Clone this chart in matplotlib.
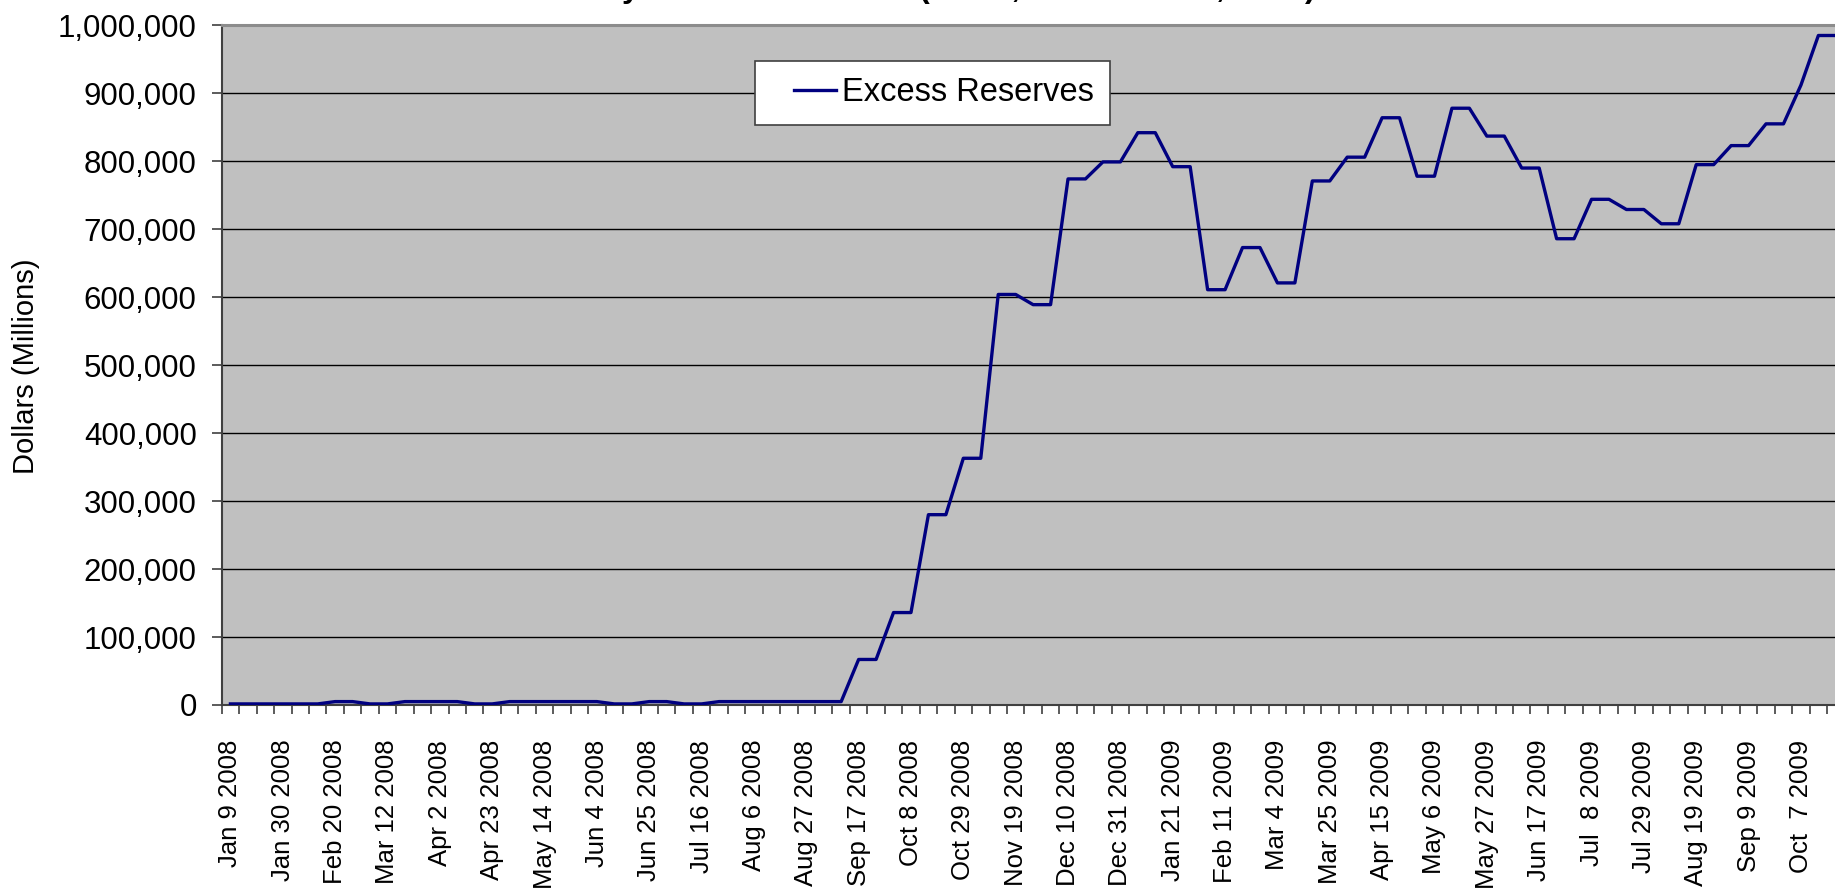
import numpy as np
import matplotlib
matplotlib.use('Agg')
from matplotlib import pyplot as plt
from matplotlib.ticker import FuncFormatter
from matplotlib.legend_handler import HandlerLine2D

plt.rcParams['font.family'] = ['Liberation Sans', 'DejaVu Sans']

# weekly excess reserves, millions of dollars
excess = [1600, 1600, 1600, 1600, 1600, 1600, 5000, 5000, 1600, 1600,
          5000, 5000, 5000, 5000, 1600, 1600, 5000, 5000, 5000, 5000,
          5000, 5000, 1600, 1600, 5000, 5000, 1600, 1600, 5000, 5000,
          5000, 5000, 5000, 5000, 5000, 5000,
          67000, 67000, 136000, 136000, 280000, 280000, 363000, 363000,
          604000, 604000, 589000, 589000, 774000, 774000, 799000, 799000,
          842000, 842000, 792000, 792000, 611000, 611000, 673000, 673000,
          621000, 621000, 771000, 771000, 806000, 806000, 864000, 864000,
          778000, 778000, 878000, 878000, 837000, 837000, 790000, 790000,
          686000, 686000, 744000, 744000, 729000, 729000, 708000, 708000,
          795000, 795000, 823000, 823000, 855000, 855000, 912000,
          985000, 985000]

date_labels = ['Jan 9 2008', 'Jan 30 2008', 'Feb 20 2008', 'Mar 12 2008',
               'Apr 2 2008', 'Apr 23 2008', 'May 14 2008', 'Jun 4 2008',
               'Jun 25 2008', 'Jul 16 2008', 'Aug 6 2008', 'Aug 27 2008',
               'Sep 17 2008', 'Oct 8 2008', 'Oct 29 2008', 'Nov 19 2008',
               'Dec 10 2008', 'Dec 31 2008', 'Jan 21 2009', 'Feb 11 2009',
               'Mar 4 2009', 'Mar 25 2009', 'Apr 15 2009', 'May 6 2009',
               'May 27 2009', 'Jun 17 2009', 'Jul  8 2009', 'Jul 29 2009',
               'Aug 19 2009', 'Sep 9 2009', 'Oct  7 2009']
label_every = 3

title = 'Weekly Excess Reserves (Jan 9, 2008 \u2013 Oct 7, 2009)'
series_name = 'Excess Reserves'
y_title = 'Dollars (Millions)'


class ShortLine(HandlerLine2D):
    # excel leaves a wide gap before the legend line
    def create_artists(self, legend, orig_handle, xdescent, ydescent,
                       width, height, fontsize, trans):
        arts = super().create_artists(legend, orig_handle, xdescent, ydescent,
                                      width, height, fontsize, trans)
        line = arts[0]
        xd = np.asarray(line.get_xdata(), dtype=float)
        x0, x1 = xd.min(), xd.max()
        line.set_xdata(np.linspace(x0 + 0.35 * (x1 - x0), x1, len(xd)))
        return arts


def draw(out_file):
    W, H = 1835, 893
    fig = plt.figure(figsize=(W / 100, H / 100), dpi=100)
    # the original is cropped: right edge of the plot runs off the picture
    x_right = 95.5
    px_per_cat = 17.45
    left, bottom, top = 221.7, 705.0, 25.3
    ax = fig.add_axes([left / W, (H - bottom) / H,
                       px_per_cat * (x_right + 0.5) / W, (bottom - top) / H])
    ax.set_facecolor('#C0C0C0')

    x = np.arange(len(excess))
    line, = ax.plot(x, excess, color='#000080', lw=2.4, label=series_name,
                    zorder=3)

    ax.set_xlim(-0.5, x_right)
    ax.set_ylim(0, 1000000)

    ax.set_yticks(np.arange(0, 1000001, 100000))
    ax.yaxis.set_major_formatter(FuncFormatter(lambda v, p: f'{int(v):,}'))
    ax.grid(axis='y', color='black', lw=1.0, zorder=1)
    ax.set_axisbelow(True)

    ax.set_xticks(np.arange(0, len(date_labels) * label_every, label_every))
    ax.set_xticklabels(date_labels, rotation=90, ha='center', va='top')
    ax.set_xticks(np.arange(-0.5, x_right, 1), minor=True)
    ax.tick_params(axis='x', which='major', length=0, pad=25, labelsize=18.5)
    ax.tick_params(axis='x', which='minor', length=6.5, width=1.2,
                   color='#404040')
    ax.tick_params(axis='y', length=7, width=1.2, color='#404040',
                   pad=11, labelsize=22.5)

    ax.spines['top'].set_color('#8c8c8c')
    ax.spines['top'].set_linewidth(2.2)
    for s in ['left', 'bottom']:
        ax.spines[s].set_color('#404040')
        ax.spines[s].set_linewidth(1.5)
    ax.spines['right'].set_visible(False)

    fig.text(26 / W, 1 - 366 / H, y_title, rotation=90, ha='center',
             va='center', fontsize=21)
    # only the descenders of the title make it into the cropped picture
    fig.text(923 / W, 1.003, title, ha='center', va='baseline',
             fontsize=23, fontweight='bold')

    leg = ax.legend(handler_map={line: ShortLine()},
                    loc='upper left', bbox_to_anchor=(755 / W, 1 - 61 / H),
                    bbox_transform=fig.transFigure, fontsize=23.5,
                    fancybox=False, framealpha=1, edgecolor='#404040',
                    borderpad=0.5, handlelength=1.97, handletextpad=0.2,
                    borderaxespad=0)
    leg.get_frame().set_linewidth(1.2)

    fig.savefig(out_file, dpi=100)


draw('out.png')
